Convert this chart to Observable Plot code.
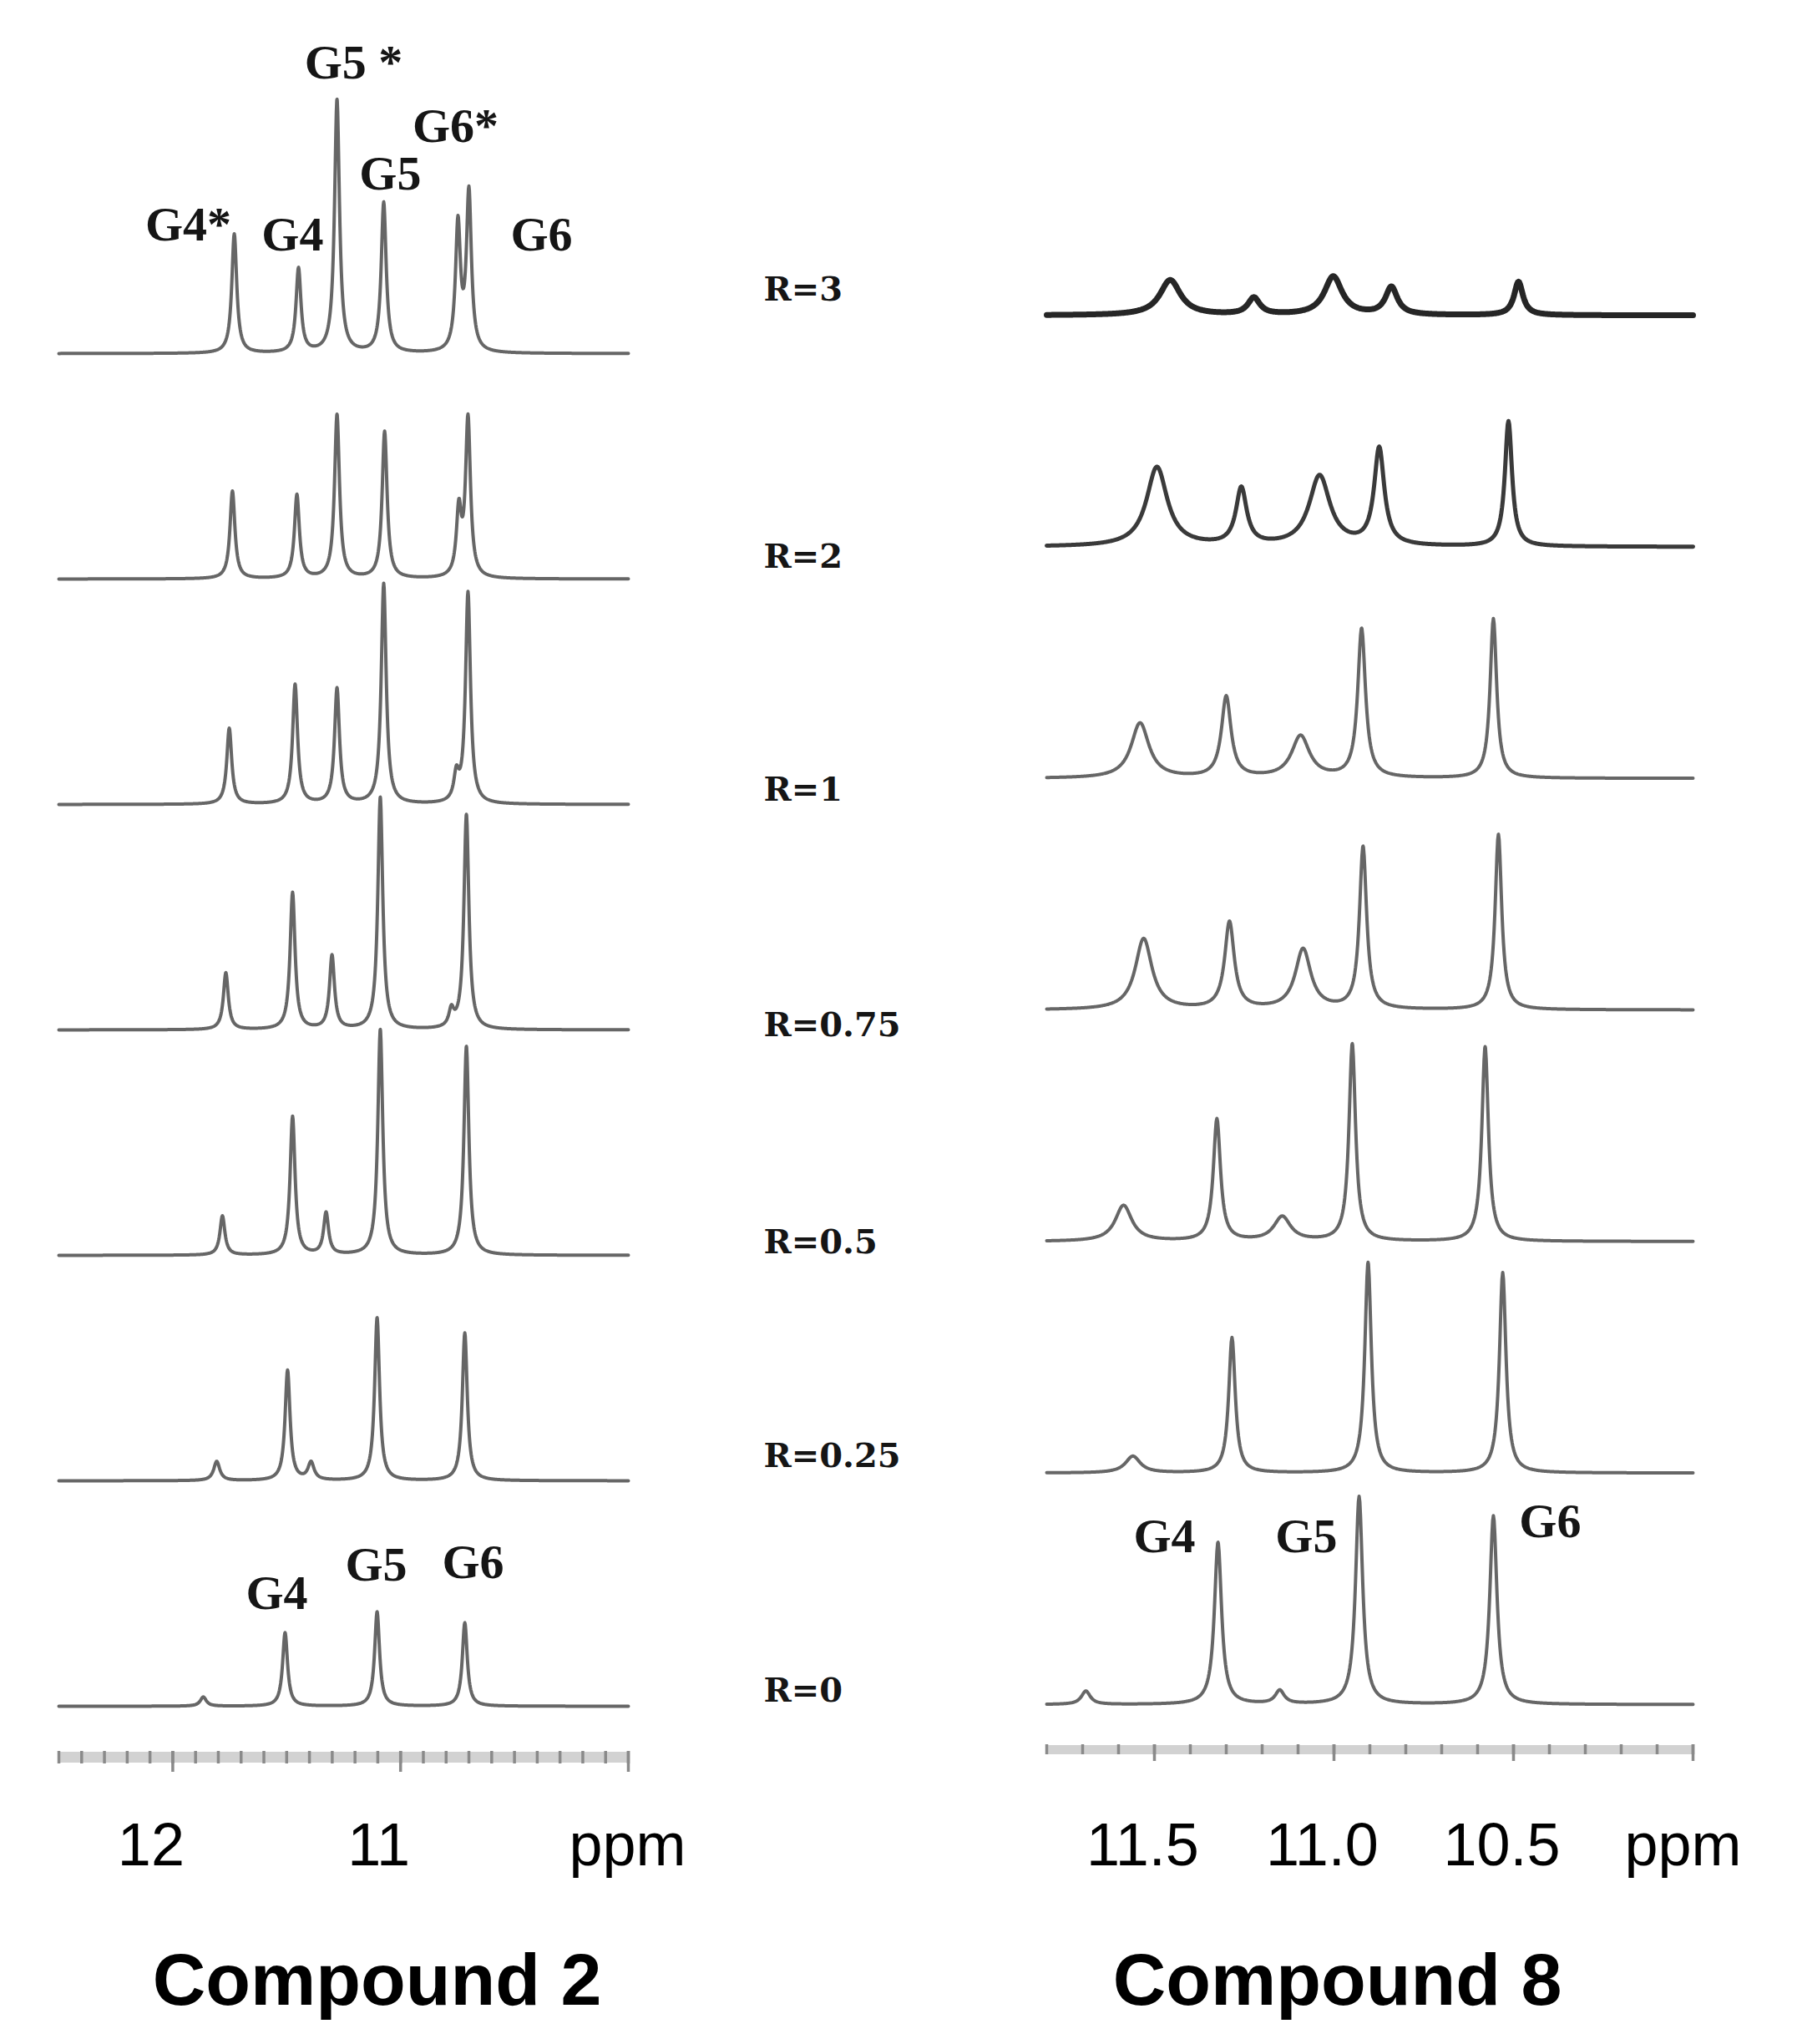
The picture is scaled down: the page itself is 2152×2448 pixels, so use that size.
<!DOCTYPE html>
<html>
<head>
<meta charset="utf-8">
<script src="https://cdn.jsdelivr.net/npm/d3@7"></script>
<script src="https://cdn.jsdelivr.net/npm/@observablehq/plot@0.6"></script>
<style>
  html, body { margin: 0; padding: 0; background: #ffffff; }
  #wrap { display: flex; width: 2152px; height: 2448px; background: #ffffff; }
  #wrap svg { display: block; flex: none; }
</style>
</head>
<body>
<div id="wrap"></div>
<script>
// ---------------- DATA ----------------
// Titration rows, top to bottom
const ratios = ["R=3", "R=2", "R=1", "R=0.75", "R=0.5", "R=0.25", "R=0"];
// Level of each ratio label above its (compound 2) row baseline, a.u.
const ratioLabelLevel = [76, 26, 17, 5, 15, 29, 18];

// Compound 2: peak chemical shifts (ppm), heights (a.u.) and half-widths (ppm) per row
const c2Shift = [
  [11.730, 11.448, 11.279, 11.074, 10.748, 10.700],
  [11.738, 11.455, 11.279, 11.070, 10.744, 10.704],
  [11.752, 11.463, 11.279, 11.074, 10.755, 10.704],
  [11.767, 11.474, 11.301, 11.089, 10.777, 10.711],
  [11.782, 11.474, 11.327, 11.089, 10.711],
  [11.807, 11.496, 11.393, 11.103, 10.718],
  [11.866, 11.507, 11.103, 10.718]
];
const c2Height = [
  [143, 101, 303, 180, 152, 190],
  [105, 100, 196, 176, 78, 190],
  [91, 143, 138, 264, 31, 253],
  [68, 164, 88, 278, 20, 257],
  [47, 166, 50, 270, 250],
  [23, 132, 21, 195, 177],
  [11, 88, 113, 100]
];
const c2Hwhm = [
  [0.013, 0.013, 0.013, 0.013, 0.013, 0.013],
  [0.013, 0.013, 0.013, 0.013, 0.013, 0.013],
  [0.013, 0.013, 0.013, 0.013, 0.013, 0.013],
  [0.013, 0.013, 0.013, 0.013, 0.013, 0.013],
  [0.013, 0.013, 0.013, 0.013, 0.013],
  [0.016, 0.013, 0.016, 0.013, 0.013],
  [0.016, 0.013, 0.013, 0.013]
];

// Compound 8
const c8Shift = [
  [11.456, 11.223, 11.002, 10.840, 10.486],
  [11.493, 11.258, 11.040, 10.874, 10.514],
  [11.540, 11.300, 11.093, 10.923, 10.556],
  [11.530, 11.291, 11.086, 10.919, 10.542],
  [11.586, 11.326, 11.144, 10.949, 10.579],
  [11.560, 11.284, 10.905, 10.530],
  [11.691, 11.323, 11.151, 10.930, 10.556]
];
const c8Height = [
  [42, 20, 46, 33, 40],
  [95, 68, 84, 116, 150],
  [66, 97, 50, 178, 191],
  [85, 104, 72, 194, 210],
  [43, 146, 29, 236, 233],
  [20, 162, 252, 240],
  [16, 194, 16, 249, 226]
];
const c8Hwhm = [
  [0.035, 0.020, 0.030, 0.020, 0.015],
  [0.035, 0.018, 0.035, 0.017, 0.012],
  [0.030, 0.016, 0.030, 0.013, 0.011],
  [0.028, 0.016, 0.026, 0.012, 0.011],
  [0.028, 0.012, 0.028, 0.011, 0.011],
  [0.025, 0.011, 0.011, 0.011],
  [0.015, 0.012, 0.015, 0.012, 0.012]
];

// Peak annotations: text, shift (ppm), level above the row baseline (a.u.), row index
const c2LabelText  = ["G4*", "G4", "G5 *", "G5", "G6*", "G6", "G4", "G5", "G6"];
const c2LabelPpm   = [11.932, 11.474, 11.206, 11.045, 10.759, 10.381, 11.543, 11.107, 10.682];
const c2LabelLevel = [154, 142, 348, 215, 272, 142, 135, 169, 172];
const c2LabelRow   = [0, 0, 0, 0, 0, 0, 6, 6, 6];

const c8LabelText  = ["G4", "G5", "G6"];
const c8LabelPpm   = [11.472, 11.077, 10.398];
const c8LabelLevel = [201, 201, 219];
const c8LabelRow   = [6, 6, 6];

// Axis tick labels
const c2TickValues = [12, 11];
const c2TickLabels = ["12", "11"];
const c8TickValues = [11.5, 11.0, 10.5];
const c8TickLabels = ["11.5", "11.0", "10.5"];
const c2MajorTicks = [12, 11, 10];
const c8MajorTicks = [11.5, 11.0, 10.5, 10.0];
const c2MinorTicks = d3.range(0, 26).map(k => +(12.5 - k * 0.1).toFixed(1));
const c8MinorTicks = d3.range(0, 19).map(k => +(11.8 - k * 0.1).toFixed(1));

// ---------------- BUILD ----------------
const serif = "'Liberation Serif', 'Times New Roman', serif";
const sans = "'Liberation Sans', Arial, Helvetica, sans-serif";

// Lorentzian line shape sampled over the ppm range (plus exact peak centres)
function trace(shifts, heights, widths, lo, hi) {
  const xs = d3.range(0, Math.round((hi - lo) / 0.002) + 1).map(k => lo + k * 0.002).concat(shifts);
  xs.sort((a, b) => a - b);
  return xs.filter(x => x >= lo && x <= hi).map(x => {
    let v = 0;
    for (let p = 0; p < shifts.length; p++) {
      const d = x - shifts[p], g = widths[p];
      v += heights[p] * g * g / (d * d + g * g);
    }
    return [x, v];
  });
}

function buildRows(shift, height, hwhm, lo, hi, step) {
  const out = [];
  ratios.forEach((r, i) => {
    const base = (ratios.length - 1 - i) * step;
    for (const [x, v] of trace(shift[i], height[i], hwhm[i], lo, hi)) {
      out.push({ratio: r, row: i, x, y: base + v});
    }
  });
  return out;
}

// ----- Compound 2 (left) -----
const c2Step = 270;
const c2Lo = 10.0, c2Hi = 12.5;
const c2YMin = -61, c2YMax = 2043;
const c2Points = buildRows(c2Shift, c2Height, c2Hwhm, c2Lo, c2Hi, c2Step);
const c2Labels = c2LabelText.map((t, k) => ({
  text: t, x: c2LabelPpm[k], y: (ratios.length - 1 - c2LabelRow[k]) * c2Step + c2LabelLevel[k]
}));

const left = Plot.plot({
  width: 1100, height: 2448,
  marginLeft: 70, marginRight: 348, marginTop: 0, marginBottom: 344,
  style: {background: "transparent", overflow: "visible"},
  x: {domain: [c2Hi, c2Lo], axis: null},
  y: {domain: [c2YMin, c2YMax], axis: null},
  marks: [
    Plot.ruleY([c2YMin], {stroke: "#d2d2d2", strokeWidth: 13}),
    Plot.axisX(c2MinorTicks, {anchor: "bottom", tickSize: 15, dy: -7, tickFormat: () => "", label: null, stroke: "#8a8a8a", strokeWidth: 3.5}),
    Plot.axisX(c2MajorTicks, {anchor: "bottom", tickSize: 25, dy: -7, tickFormat: () => "", label: null, stroke: "#8a8a8a", strokeWidth: 3.5}),
    Plot.line(c2Points, {x: "x", y: "y", z: "ratio", stroke: "#666666", strokeWidth: 4, strokeLinejoin: "round", curve: "linear"}),
    Plot.text(c2Labels, {x: "x", y: "y", text: "text", fontFamily: serif, fontWeight: "bold", fontSize: 58, fill: "#151515"}),
    Plot.text(ratios, {y: (d, i) => (ratios.length - 1 - i) * c2Step + ratioLabelLevel[i], text: d => d, frameAnchor: "right", dx: 162, textAnchor: "start", fontFamily: "'DejaVu Serif', serif", fontWeight: "bold", fontSize: 40, fill: "#151515"}),
    Plot.text(c2TickValues, {x: d => d, text: (d, i) => c2TickLabels[i], frameAnchor: "bottom", lineAnchor: "bottom", dy: 129, dx: -26, fontFamily: sans, fontSize: 72, fill: "#000"}),
    Plot.text(["ppm"], {text: d => d, frameAnchor: "bottom-right", lineAnchor: "bottom", textAnchor: "middle", dy: 129, dx: -1, fontFamily: sans, fontSize: 72, fill: "#000"}),
    Plot.text(["Compound 2"], {text: d => d, frameAnchor: "bottom", lineAnchor: "bottom", dy: 296, dx: 40, fontFamily: sans, fontWeight: "bold", fontSize: 88, fill: "#000"})
  ]
});

// ----- Compound 8 (right) -----
const c8Step = 277.3;
const c8Lo = 10.0, c8Hi = 11.8;
const c8YMin = -54, c8YMax = 2041;
const c8Points = buildRows(c8Shift, c8Height, c8Hwhm, c8Lo, c8Hi, c8Step);
const c8Labels = c8LabelText.map((t, k) => ({
  text: t, x: c8LabelPpm[k], y: (ratios.length - 1 - c8LabelRow[k]) * c8Step + c8LabelLevel[k]
}));

const right = Plot.plot({
  width: 1052, height: 2448,
  marginLeft: 153, marginRight: 125, marginTop: 0, marginBottom: 353,
  style: {background: "transparent", overflow: "visible"},
  x: {domain: [c8Hi, c8Lo], axis: null},
  y: {domain: [c8YMin, c8YMax], axis: null},
  marks: [
    Plot.ruleY([c8YMin], {stroke: "#d2d2d2", strokeWidth: 11}),
    Plot.axisX(c8MinorTicks, {anchor: "bottom", tickSize: 12, dy: -6, tickFormat: () => "", label: null, stroke: "#8a8a8a", strokeWidth: 3.5}),
    Plot.axisX(c8MajorTicks, {anchor: "bottom", tickSize: 20, dy: -6, tickFormat: () => "", label: null, stroke: "#8a8a8a", strokeWidth: 3.5}),
    Plot.line(c8Points.filter(d => d.row >= 2), {x: "x", y: "y", z: "ratio", stroke: "#666666", strokeWidth: 4, strokeLinejoin: "round"}),
    Plot.line(c8Points.filter(d => d.row === 1), {x: "x", y: "y", z: "ratio", stroke: "#3a3a3a", strokeWidth: 5, strokeLinejoin: "round"}),
    Plot.line(c8Points.filter(d => d.row === 0), {x: "x", y: "y", z: "ratio", stroke: "#262626", strokeWidth: 7, strokeLinejoin: "round"}),
    Plot.text(c8Labels, {x: "x", y: "y", text: "text", fontFamily: serif, fontWeight: "bold", fontSize: 58, fill: "#151515"}),
    Plot.text(c8TickValues, {x: d => d, text: (d, i) => c8TickLabels[i], frameAnchor: "bottom", lineAnchor: "bottom", dy: 138, dx: -14, fontFamily: sans, fontSize: 72, fill: "#000"}),
    Plot.text(["ppm"], {text: d => d, frameAnchor: "bottom-right", lineAnchor: "bottom", textAnchor: "middle", dy: 138, dx: -12, fontFamily: sans, fontSize: 72, fill: "#000"}),
    Plot.text(["Compound 8"], {text: d => d, frameAnchor: "bottom", lineAnchor: "bottom", dy: 305, dx: -39, fontFamily: sans, fontWeight: "bold", fontSize: 88, fill: "#000"})
  ]
});

const wrap = document.getElementById("wrap");
wrap.appendChild(left);
wrap.appendChild(right);
</script>
</body>
</html>
